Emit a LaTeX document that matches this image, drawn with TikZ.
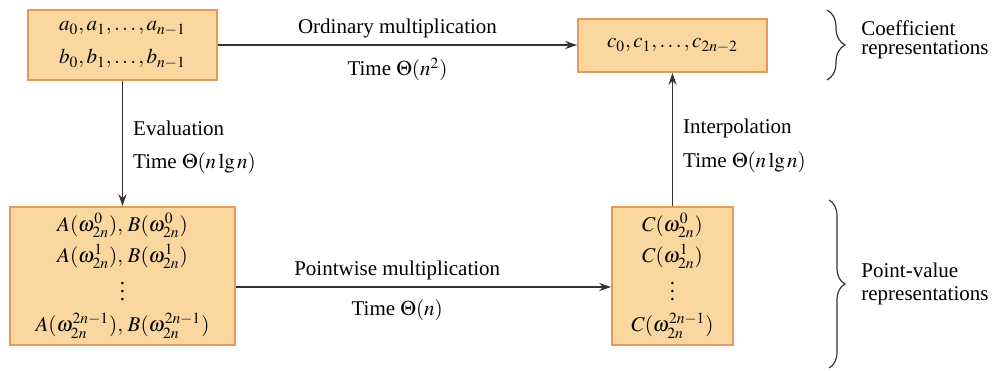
\documentclass[tikz,border=0pt]{standalone}
\usepackage{mathptmx}
\usepackage[no-math]{fontspec}
\setmainfont{Liberation Serif}
\usetikzlibrary{arrows.meta,decorations.pathreplacing}
\definecolor{boxfill}{HTML}{FBD7A0}
\definecolor{boxline}{HTML}{E59A55}
\begin{document}
\begin{tikzpicture}[x=0.5pt,y=-0.5pt,
  font=\rmfamily\fontsize{10.5}{15.5}\selectfont,
  box/.style={draw=boxline,fill=boxfill,line width=0.8pt,align=center,inner sep=0pt},
  arr/.style={draw=black!80,line width=0.7pt,-{Stealth[length=6pt,width=4pt]}},
  lbl/.style={inner sep=2pt},
  brc/.style={decorate,decoration={brace,amplitude=#1},draw=black!80,line width=0.6pt}]
\useasboundingbox (0,0) rectangle (1002,370);
\node[box,minimum width=94.5pt,minimum height=35pt] (A) at (122.5,45)
  {$a_0,a_1,\ldots,a_{n-1}$\\[1pt] $b_0,b_1,\ldots,b_{n-1}$};
\node[box,minimum width=94.5pt,minimum height=26.5pt] (C) at (672.5,45.5)
  {$c_0,c_1,\ldots,c_{2n-2}$};
\node[box,minimum width=112.5pt,minimum height=69pt] (P) at (122.5,276)
  {$A(\omega_{2n}^{0}),\,B(\omega_{2n}^{0})$\\ $A(\omega_{2n}^{1}),\,B(\omega_{2n}^{1})$\\ $\vdots$\\ $A(\omega_{2n}^{2n-1}),\,B(\omega_{2n}^{2n-1})$};
\node[box,minimum width=60.5pt,minimum height=69pt] (Q) at (672.5,276)
  {$C(\omega_{2n}^{0})$\\ $C(\omega_{2n}^{1})$\\ $\vdots$\\ $C(\omega_{2n}^{2n-1})$};
\draw[arr] (A.east) -- node[lbl,above=1pt]{Ordinary multiplication} node[lbl,below=4pt]{Time $\Theta(n^2)$} (A.east -| C.west);
\draw[arr] (P.east |- 0,287) -- node[lbl,pos=0.43,above=1pt]{Pointwise multiplication} node[lbl,pos=0.43,below=4pt]{Time $\Theta(n)$} (Q.west |- 0,287);
\draw[arr] (A.south) -- node[lbl,pos=0.38,right=3pt]{Evaluation} node[lbl,pos=0.66,right=3pt]{Time $\Theta(n\lg n)$} (P.north);
\draw[arr] (Q.north) -- node[lbl,pos=0.585,right=3pt]{Interpolation} node[lbl,pos=0.333,right=3pt]{Time $\Theta(n\lg n)$} (C.south);
\coordinate (b1) at (827,10);
\coordinate (b2) at (827,80);
\draw[brc=9pt] (b1) -- (b2);
\node[anchor=west,align=left,inner sep=0pt,font=\rmfamily\fontsize{10.5}{9.5}\selectfont] (t1) at (861,40) {Coefficient\\representations};
\coordinate (b3) at (829,200);
\coordinate (b4) at (829,368);
\draw[brc=8pt] (b3) -- (b4);
\node[anchor=west,align=left,inner sep=0pt,font=\rmfamily\fontsize{10.5}{11.5}\selectfont] (t2) at (861,284) {Point-value\\representations};
\end{tikzpicture}
\end{document}
